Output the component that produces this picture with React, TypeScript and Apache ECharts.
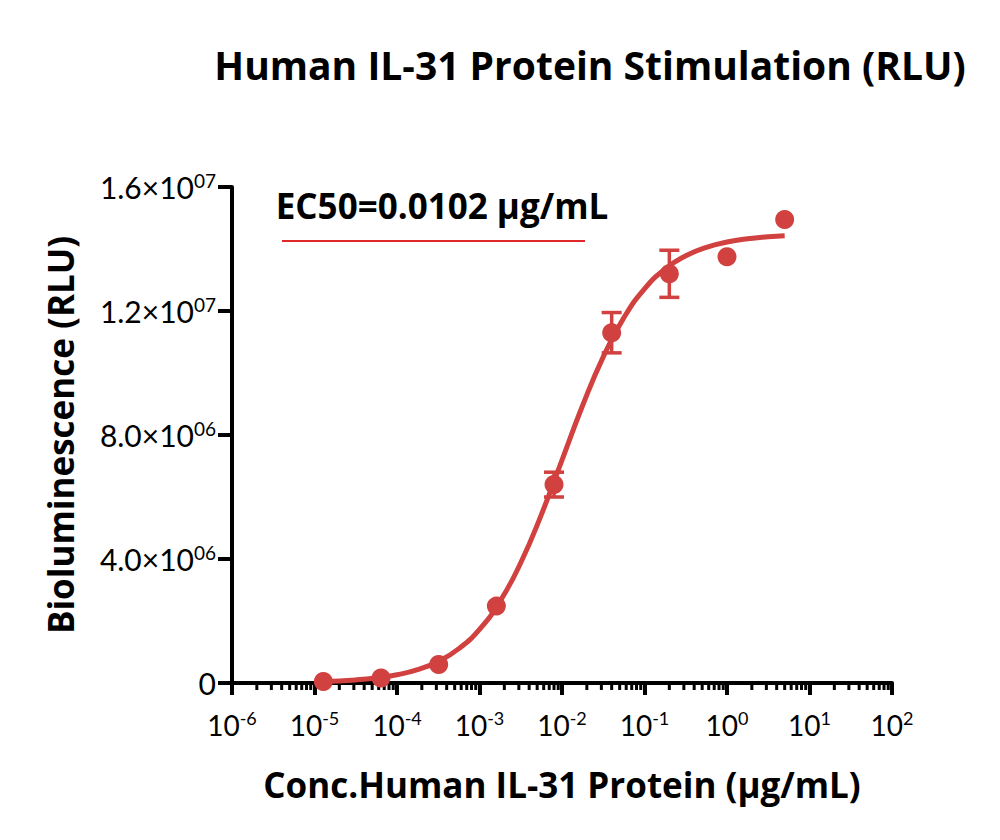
import React, { useEffect, useRef } from "react";
import * as echarts from "echarts";

// ---- data ----
const concentrations = [0.0000128, 0.000064, 0.00032, 0.0016, 0.008, 0.04, 0.2, 1, 5];
const meanRLU = [0.05e6, 0.16e6, 0.6e6, 2.48e6, 6.4e6, 11.3e6, 13.2e6, 13.75e6, 14.95e6];
const sdRLU = [0, 0, 0, 0, 0.4e6, 0.65e6, 0.76e6, 0, 0];

// fitted curve, points
const curveX = [
  0.0000128, 0.00003162, 0.00005623, 0.0001, 0.0001778, 0.0003162, 0.0005623, 0.001,
  0.001778, 0.003162, 0.005623, 0.01, 0.01778, 0.03162, 0.05623, 0.1, 0.1778, 0.3162,
  0.5623, 1, 1.778, 3.162, 5,
];
const curveY = [
  0.046e6, 0.1e6, 0.164e6, 0.267e6, 0.432e6, 0.696e6, 1.108e6, 1.732e6,
  2.641e6, 3.879e6, 5.433e6, 7.189e6, 8.951e6, 10.52e6, 11.785e6, 12.714e6, 13.357e6, 13.781e6,
  14.053e6, 14.224e6, 14.331e6, 14.396e6, 14.43e6,
];

// tick labels
const yTickMantissa = ["0", "4.0×10", "8.0×10", "1.2×10", "1.6×10"];
const yTickExponent = ["", "06", "06", "07", "07"];
const xTickExponent = ["-6", "-5", "-4", "-3", "-2", "-1", "0", "1", "2"];

const titleText = "Human IL-31 Protein Stimulation (RLU)";
const xTitle = "Conc.Human IL-31 Protein (µg/mL)";
const yTitle = "Bioluminescence (RLU)";
const ec50Text = "EC50=0.0102 µg/mL";

const RED = "#d0413f";
const FONT = "Lato";
const TFONT = "Open Sans";

export default function App() {
  const ref = useRef<HTMLDivElement>(null);

  useEffect(() => {
    if (!ref.current) return;
    const chart = echarts.init(ref.current, null, { renderer: "svg" });

    const minorTicks: number[][] = [];
    for (let n = -6; n < 2; n++) {
      for (let k = 2; k <= 9; k++) minorTicks.push([k * Math.pow(10, n), 0]);
    }

    const points = concentrations.map((c, i) => [c, meanRLU[i]]);
    const errors = concentrations
      .map((c, i) => [c, meanRLU[i] - sdRLU[i], meanRLU[i] + sdRLU[i]])
      .filter((d, i) => sdRLU[i] > 0);
    const curve = curveX.map((c, i) => [c, curveY[i]]);

    const option: any = {
      animation: false,
      backgroundColor: "#ffffff",
      grid: { left: 232, right: 108, top: 187, bottom: 157, containLabel: false },
      xAxis: {
        type: "log",
        logBase: 10,
        min: 1e-6,
        max: 100,
        splitNumber: 8,
        axisLine: { show: true, onZero: false, lineStyle: { color: "#000", width: 4 } },
        axisTick: { show: true, length: 12, lineStyle: { color: "#000", width: 4 } },
        splitLine: { show: false },
        minorTick: { show: false },
        axisLabel: {
          margin: 26,
          formatter: (v: number) => {
            const idx = Math.round(Math.log10(v)) + 6;
            return "{b|10}{s|" + xTickExponent[idx] + "}";
          },
          rich: {
            b: { fontFamily: FONT, fontSize: 28, lineHeight: 32, color: "#000" },
            s: { fontFamily: FONT, fontSize: 18, lineHeight: 16, verticalAlign: "top", color: "#000" },
          },
        },
      },
      yAxis: {
        type: "value",
        min: 0,
        max: 16000000,
        interval: 4000000,
        axisLine: { show: true, onZero: false, lineStyle: { color: "#000", width: 4 } },
        axisTick: { show: true, length: 14, lineStyle: { color: "#000", width: 4 } },
        splitLine: { show: false },
        axisLabel: {
          margin: 16,
          formatter: (v: number) => {
            const idx = Math.round(v / 4000000);
            if (!yTickExponent[idx]) return "{b|" + yTickMantissa[idx] + "}";
            return "{b|" + yTickMantissa[idx] + "}{s|" + yTickExponent[idx] + "}";
          },
          rich: {
            b: { fontFamily: FONT, fontSize: 30, lineHeight: 32, color: "#000" },
            s: { fontFamily: FONT, fontSize: 19, lineHeight: 18, verticalAlign: "top", color: "#000" },
          },
        },
      },
      series: [
        {
          type: "custom",
          name: "minorTicks",
          clip: false,
          silent: true,
          data: minorTicks,
          renderItem: (params: any, api: any) => {
            const p = api.coord([api.value(0), 0]);
            return {
              type: "line",
              shape: { x1: p[0], y1: p[1], x2: p[0], y2: p[1] + 7 },
              style: { stroke: "#000", lineWidth: 3 },
            };
          },
          z: 1,
        },
        {
          type: "line",
          name: "fit",
          data: curve,
          smooth: true,
          showSymbol: false,
          symbol: "none",
          lineStyle: { color: RED, width: 5 },
          z: 2,
        },
        {
          type: "custom",
          name: "errors",
          clip: false,
          data: errors,
          renderItem: (params: any, api: any) => {
            const lo = api.coord([api.value(0), api.value(1)]);
            const hi = api.coord([api.value(0), api.value(2)]);
            const hw = 10;
            const style = { stroke: RED, lineWidth: 3.5 };
            return {
              type: "group",
              children: [
                { type: "line", shape: { x1: lo[0], y1: lo[1], x2: hi[0], y2: hi[1] }, style },
                { type: "line", shape: { x1: hi[0] - hw, y1: hi[1], x2: hi[0] + hw, y2: hi[1] }, style },
                { type: "line", shape: { x1: lo[0] - hw, y1: lo[1], x2: lo[0] + hw, y2: lo[1] }, style },
              ],
            };
          },
          z: 3,
        },
        {
          type: "scatter",
          name: "data",
          data: points,
          symbol: "circle",
          symbolSize: 19,
          itemStyle: { color: RED, opacity: 1 },
          z: 4,
        },
      ],
      graphic: [
        {
          type: "text",
          x: 590,
          y: 64,
          style: {
            text: titleText,
            fontFamily: TFONT,
            fontWeight: "bold",
            fontSize: 39,
            fill: "#000",
            align: "center",
            verticalAlign: "middle",
          },
        },
        {
          type: "text",
          x: 442,
          y: 205,
          style: {
            text: ec50Text,
            fontFamily: TFONT,
            fontWeight: "bold",
            fontSize: 35,
            fill: "#000",
            align: "center",
            verticalAlign: "middle",
          },
        },
        {
          type: "line",
          shape: { x1: 282, y1: 241, x2: 585, y2: 241 },
          style: { stroke: "#e0282a", lineWidth: 2 },
        },
        {
          type: "text",
          x: 562,
          y: 784,
          style: {
            text: xTitle,
            fontFamily: TFONT,
            fontWeight: "bold",
            fontSize: 35,
            fill: "#000",
            align: "center",
            verticalAlign: "middle",
          },
        },
        {
          type: "text",
          x: 60,
          y: 435,
          rotation: Math.PI / 2,
          style: {
            text: yTitle,
            fontFamily: TFONT,
            fontWeight: "bold",
            fontSize: 35,
            fill: "#000",
            align: "center",
            verticalAlign: "middle",
          },
        },
      ],
    };

    chart.setOption(option);
    return () => chart.dispose();
  }, []);

  return (
    <div
      ref={ref}
      style={{ position: "absolute", left: 0, top: 0, width: 1000, height: 840, background: "#fff" }}
    />
  );
}
